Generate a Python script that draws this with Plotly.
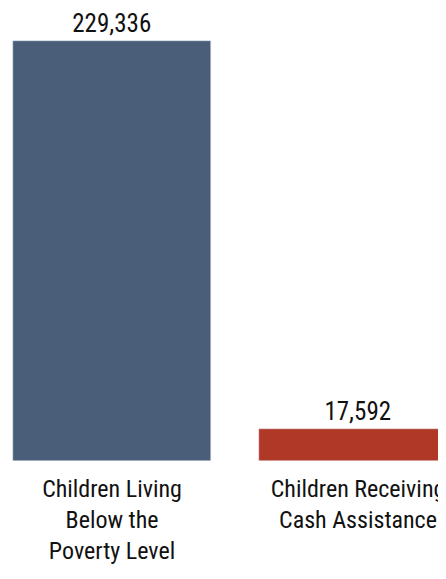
import plotly.graph_objects as go

categories = ["Children Living<br>Below the<br>Poverty Level", "Children Receiving<br>Cash Assistance"]
values = [229336, 17592]
value_labels = ["229,336", "17,592"]
colors = ["#4A5E7A", "#B03826"]

FONT = "Roboto Condensed, Liberation Sans Narrow, sans-serif"

fig = go.Figure(go.Bar(
    x=[0, 1], y=values, marker_color=colors, width=0.805,
    text=value_labels, textposition="outside", cliponaxis=False,
    textfont=dict(family=FONT, size=25, color="#111111"),
))

fig.update_layout(
    width=438, height=571,
    margin=dict(l=0, r=0, t=0, b=118, autoexpand=False),
    paper_bgcolor="white", plot_bgcolor="white",
    showlegend=False,
    bargap=0,
)
fig.update_xaxes(range=[-0.4228, 1.3577], tickvals=[0, 1], ticktext=categories,
                 showgrid=False, zeroline=False, showline=False, ticks="",
                 automargin=False, ticklabeloverflow="allow",
                 ticklabelstandoff=11,
                 tickfont=dict(family=FONT, size=24, color="#111111"))
fig.update_yaxes(range=[0, 247357], visible=False, automargin=False)

fig.write_html("out.html")
